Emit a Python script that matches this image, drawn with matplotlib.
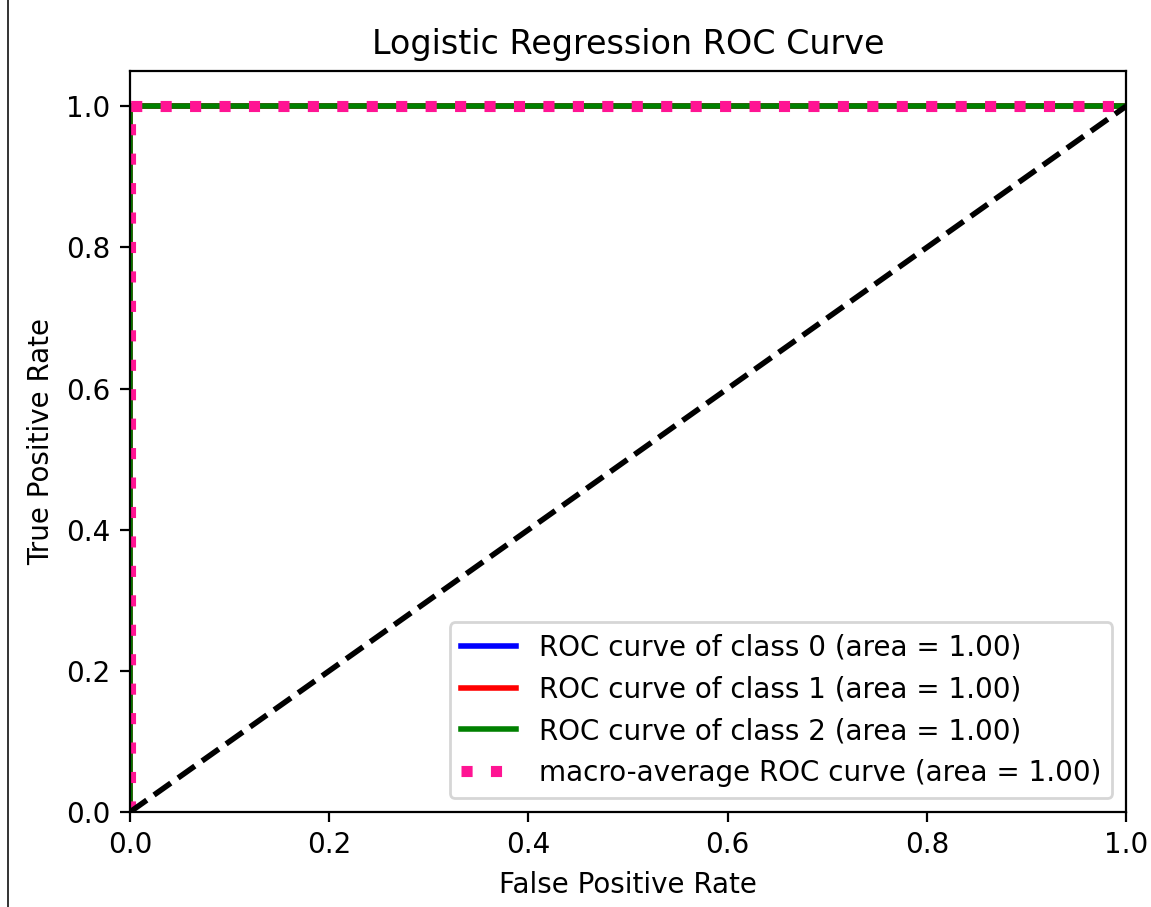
import numpy as np
import matplotlib.pyplot as plt
from matplotlib.lines import Line2D

# ROC points per class (all perfect classifiers)
fpr_0 = [0.0, 0.0, 1.0]
tpr_0 = [0.0, 1.0, 1.0]
fpr_1 = [0.0, 0.0, 1.0]
tpr_1 = [0.0, 1.0, 1.0]
fpr_2 = [0.0, 0.0, 1.0]
tpr_2 = [0.0, 1.0, 1.0]
fpr_macro = [0.0, 0.0, 1.0]
tpr_macro = [0.0, 1.0, 1.0]
auc_values = [1.00, 1.00, 1.00]
auc_macro = 1.00
class_colors = ['blue', 'red', 'green']

def main():
    dpi = 200
    fig = plt.figure(figsize=(1151 / dpi, 907 / dpi), dpi=dpi)
    ax = fig.add_axes([130 / 1151, 1 - 812 / 907, (1126 - 130) / 1151, (812 - 71) / 907])

    fprs = [fpr_0, fpr_1, fpr_2]
    tprs = [tpr_0, tpr_1, tpr_2]
    for i in range(3):
        ax.plot(fprs[i], tprs[i], color=class_colors[i], lw=2,
                label='ROC curve of class {0} (area = {1:0.2f})'.format(i, auc_values[i]))
    ax.plot(fpr_macro, tpr_macro, color='deeppink', linestyle=':', linewidth=4,
            label='macro-average ROC curve (area = {0:0.2f})'.format(auc_macro))
    ax.plot([0, 1], [0, 1], 'k--', lw=2)

    ax.set_xlim([0.0, 1.0])
    ax.set_ylim([0.0, 1.05])
    ax.set_xlabel('False Positive Rate')
    ax.set_ylabel('True Positive Rate')
    ax.set_title('Logistic Regression ROC Curve')
    ax.legend(loc='lower right')

    # screenshot border line on the left
    fig.add_artist(Line2D([8 / 1151, 8 / 1151], [0, 1], color='#333333', lw=0.7,
                          transform=fig.transFigure))

    fig.savefig('out.png', dpi=dpi)

if __name__ == "__main__":
    main()
